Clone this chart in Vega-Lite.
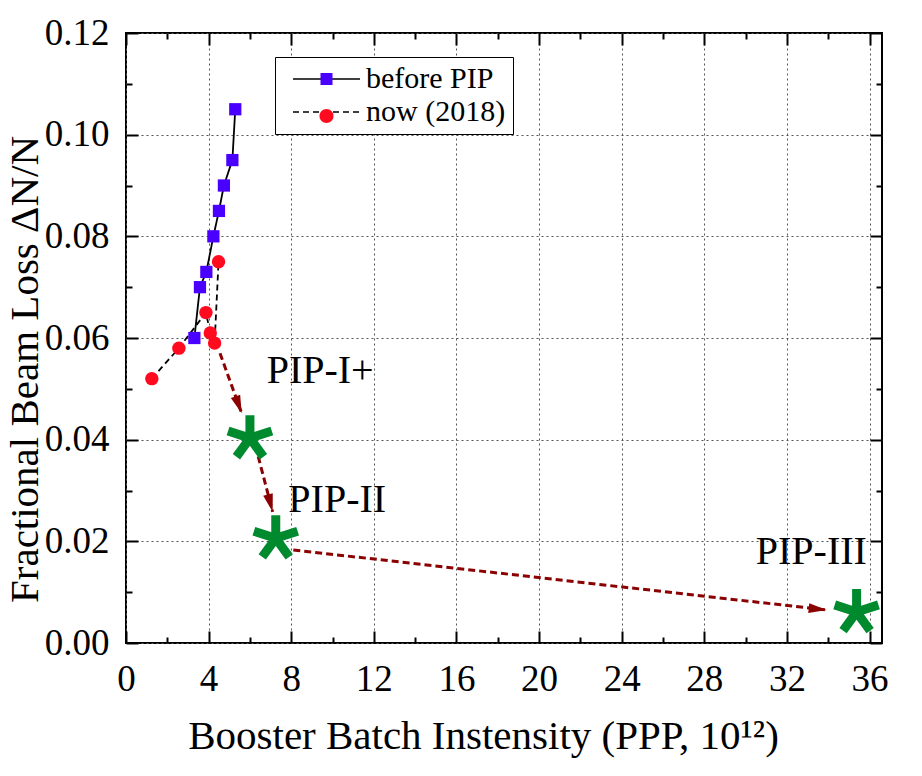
{
  "$schema": "https://vega.github.io/schema/vega-lite/v6.json",
  "width": 756,
  "height": 610,
  "autosize": {"type": "none"},
  "padding": {"left": 126, "top": 33, "right": 40, "bottom": 133},
  "background": "white",
  "config": {
    "font": "Liberation Serif",
    "view": {"stroke": "black", "strokeWidth": 2},
    "axis": {
      "domain": false,
      "grid": false,
      "labelFlush": false,
      "labelOverlap": false,
      "tickColor": "black",
      "tickWidth": 2,
      "labelColor": "black",
      "titleColor": "black",
      "labelFont": "Liberation Serif",
      "titleFont": "Liberation Serif",
      "titleFontWeight": "normal"
    }
  },
  "datasets": {
    "measured": [
      {"series": "before PIP", "ppp": 3.31, "loss": 0.060},
      {"series": "before PIP", "ppp": 3.58, "loss": 0.070},
      {"series": "before PIP", "ppp": 3.89, "loss": 0.073},
      {"series": "before PIP", "ppp": 4.23, "loss": 0.080},
      {"series": "before PIP", "ppp": 4.50, "loss": 0.085},
      {"series": "before PIP", "ppp": 4.74, "loss": 0.090},
      {"series": "before PIP", "ppp": 5.15, "loss": 0.095},
      {"series": "before PIP", "ppp": 5.29, "loss": 0.105},
      {"series": "now (2018)", "ppp": 1.25, "loss": 0.052},
      {"series": "now (2018)", "ppp": 2.56, "loss": 0.058},
      {"series": "now (2018)", "ppp": 3.87, "loss": 0.065},
      {"series": "now (2018)", "ppp": 4.08, "loss": 0.061},
      {"series": "now (2018)", "ppp": 4.29, "loss": 0.059},
      {"series": "now (2018)", "ppp": 4.48, "loss": 0.075}
    ],
    "targets": [
      {"stage": "PIP-I+", "ppp": 6.0, "loss": 0.0403},
      {"stage": "PIP-II", "ppp": 7.25, "loss": 0.0206},
      {"stage": "PIP-III", "ppp": 35.37, "loss": 0.0061}
    ],
    "arrows": [
      {"stage": "PIP-I+", "ppp": 4.55, "loss": 0.0570, "ppp_end": 5.60, "loss_end": 0.0452},
      {"stage": "PIP-II", "ppp": 6.40, "loss": 0.0367, "ppp_end": 7.10, "loss_end": 0.0258},
      {"stage": "PIP-III", "ppp": 8.10, "loss": 0.0183, "ppp_end": 33.92, "loss_end": 0.0065}
    ],
    "labels": [
      {"stage": "PIP-I+", "ppp": 6.81, "loss": 0.0512},
      {"stage": "PIP-II", "ppp": 7.86, "loss": 0.0258},
      {"stage": "PIP-III", "ppp": 30.49, "loss": 0.0155}
    ]
  },
  "resolve": {
    "axis": {"x": "independent", "y": "independent"},
    "scale": {"color": "independent"}
  },
  "layer": [
    {
      "data": {"name": "measured"},
      "mark": {"type": "line", "color": "black", "strokeWidth": 1.8},
      "encoding": {
        "x": {
          "field": "ppp", "type": "quantitative",
          "scale": {"domain": [0, 36.6], "nice": false, "zero": false},
          "axis": {
            "orient": "bottom",
            "values": [0, 4, 8, 12, 16, 20, 24, 28, 32, 36],
            "format": "d",
            "tickSize": -12,
            "labelPadding": 30,
            "labelFontSize": 37,
            "grid": true,
            "gridDash": [2, 3],
            "gridColor": "#555555",
            "gridWidth": 1,
            "title": "Booster Batch Instensity (PPP, 10¹²)",
            "titleFontSize": 41,
            "titleX": 357,
            "titleY": 105,
            "titleAlign": "center",
            "titleBaseline": "alphabetic"
          }
        },
        "y": {
          "field": "loss", "type": "quantitative",
          "scale": {"domain": [0, 0.12], "nice": false},
          "axis": {
            "orient": "left",
            "values": [0, 0.02, 0.04, 0.06, 0.08, 0.1, 0.12],
            "format": ".2f",
            "tickSize": -12,
            "labelPadding": 29,
            "labelFontSize": 37,
            "grid": true,
            "gridDash": [2, 3],
            "gridColor": "#555555",
            "gridWidth": 1,
            "title": "Fractional Beam Loss ΔN/N",
            "titleFontSize": 41,
            "titleAngle": 270,
            "titleX": -89,
            "titleY": 336,
            "titleAlign": "center",
            "titleBaseline": "alphabetic"
          }
        },
        "strokeDash": {
          "field": "series", "type": "nominal",
          "scale": {"domain": ["before PIP", "now (2018)"], "range": [[1, 0], [6, 4]]},
          "legend": {
            "title": null,
            "orient": "none",
            "legendX": 149,
            "legendY": 24,
            "padding": 7,
            "rowPadding": 3,
            "strokeColor": "black",
            "fillColor": "white",
            "labelFont": "Liberation Serif",
            "labelFontSize": 30,
            "labelColor": "black",
            "labelOffset": 54,
            "labelLimit": 0,
            "symbolType": "M-0.286,0H4.5",
            "symbolSize": 784,
            "symbolStrokeColor": "black",
            "symbolStrokeWidth": 1.6,
            "symbolFillColor": "transparent",
            "zindex": 1
          }
        }
      }
    },
    {
      "data": {"name": "measured"},
      "transform": [{"filter": "datum.series === 'before PIP'"}],
      "mark": {"type": "point", "shape": "square", "filled": true, "opacity": 1, "size": 150},
      "encoding": {
        "x": {
          "field": "ppp", "type": "quantitative",
          "axis": {"orient": "bottom", "values": [2, 6, 10, 14, 18, 22, 26, 30, 34], "tickSize": -6, "labels": false, "title": null, "grid": false}
        },
        "y": {
          "field": "loss", "type": "quantitative",
          "axis": {"orient": "left", "values": [0.01, 0.03, 0.05, 0.07, 0.09, 0.11], "tickSize": -6, "labels": false, "title": null, "grid": false}
        },
        "color": {
          "field": "series", "type": "nominal",
          "scale": {"range": ["#4a00ff"]},
          "legend": {
            "title": null,
            "orient": "none",
            "legendX": 149,
            "legendY": 24,
            "padding": 7,
            "labelFont": "Liberation Serif",
            "labelFontSize": 30,
            "labelExpr": "''",
            "labelOffset": 54,
            "labelLimit": 0,
            "symbolType": "M1.679,-0.429H2.536V0.429H1.679Z",
            "symbolSize": 784,
            "symbolStrokeWidth": 0,
            "zindex": 2
          }
        }
      }
    },
    {
      "data": {"name": "measured"},
      "transform": [{"filter": "datum.series === 'now (2018)'"}],
      "mark": {"type": "point", "shape": "circle", "filled": true, "opacity": 1, "size": 180},
      "encoding": {
        "x": {"field": "ppp", "type": "quantitative", "axis": null},
        "y": {"field": "loss", "type": "quantitative", "axis": null},
        "color": {
          "field": "series", "type": "nominal",
          "scale": {"range": ["#ff0a1e"]},
          "legend": {
            "title": null,
            "orient": "none",
            "legendX": 149,
            "legendY": 61,
            "padding": 7,
            "labelFont": "Liberation Serif",
            "labelFontSize": 30,
            "labelExpr": "''",
            "labelOffset": 54,
            "labelLimit": 0,
            "symbolType": "M1.607,0A0.5,0.5 0 1,1 2.607,0A0.5,0.5 0 1,1 1.607,0Z",
            "symbolSize": 784,
            "symbolStrokeWidth": 0,
            "zindex": 2
          }
        }
      }
    },
    {
      "data": {"name": "arrows"},
      "mark": {"type": "rule", "color": "#8b0000", "strokeWidth": 3, "strokeDash": [7, 4]},
      "encoding": {
        "x": {
          "field": "ppp", "type": "quantitative",
          "axis": {"orient": "top", "values": [0, 4, 8, 12, 16, 20, 24, 28, 32, 36], "tickSize": -12, "labels": false, "title": null, "grid": false}
        },
        "y": {
          "field": "loss", "type": "quantitative",
          "axis": {"orient": "right", "values": [0, 0.02, 0.04, 0.06, 0.08, 0.1, 0.12], "tickSize": -12, "labels": false, "title": null, "grid": false}
        },
        "x2": {"field": "ppp_end"},
        "y2": {"field": "loss_end"}
      }
    },
    {
      "data": {"name": "arrows"},
      "transform": [{"filter": "datum.stage === 'PIP-I+'"}],
      "mark": {"type": "point", "shape": "M0,0L0.55,2L-0.55,2Z", "filled": true, "color": "#8b0000", "opacity": 1, "size": 324, "angle": 160},
      "encoding": {
        "x": {"field": "ppp_end", "type": "quantitative", "axis": null},
        "y": {"field": "loss_end", "type": "quantitative", "axis": null}
      }
    },
    {
      "data": {"name": "arrows"},
      "transform": [{"filter": "datum.stage === 'PIP-II'"}],
      "mark": {"type": "point", "shape": "M0,0L0.55,2L-0.55,2Z", "filled": true, "color": "#8b0000", "opacity": 1, "size": 324, "angle": 165},
      "encoding": {
        "x": {"field": "ppp_end", "type": "quantitative", "axis": null},
        "y": {"field": "loss_end", "type": "quantitative", "axis": null}
      }
    },
    {
      "data": {"name": "arrows"},
      "transform": [{"filter": "datum.stage === 'PIP-III'"}],
      "mark": {"type": "point", "shape": "M0,0L0.55,2L-0.55,2Z", "filled": true, "color": "#8b0000", "opacity": 1, "size": 324, "angle": 96},
      "encoding": {
        "x": {"field": "ppp_end", "type": "quantitative", "axis": null},
        "y": {"field": "loss_end", "type": "quantitative", "axis": null}
      }
    },
    {
      "data": {"name": "targets"},
      "mark": {
        "type": "point",
        "shape": "M0,-1L0,0M0.951,-0.309L0,0M0.588,0.809L0,0M-0.588,0.809L0,0M-0.951,-0.309L0,0",
        "filled": false,
        "color": "#008a2e",
        "strokeWidth": 9,
        "strokeCap": "butt",
        "opacity": 1,
        "size": 2116
      },
      "encoding": {
        "x": {
          "field": "ppp", "type": "quantitative",
          "axis": {"orient": "top", "values": [2, 6, 10, 14, 18, 22, 26, 30, 34], "tickSize": -6, "labels": false, "title": null, "grid": false}
        },
        "y": {
          "field": "loss", "type": "quantitative",
          "axis": {"orient": "right", "values": [0.01, 0.03, 0.05, 0.07, 0.09, 0.11], "tickSize": -6, "labels": false, "title": null, "grid": false}
        }
      }
    },
    {
      "data": {"name": "labels"},
      "mark": {"type": "text", "font": "Liberation Serif", "fontSize": 40, "align": "left", "baseline": "alphabetic", "color": "black"},
      "encoding": {
        "x": {"field": "ppp", "type": "quantitative", "axis": null},
        "y": {"field": "loss", "type": "quantitative", "axis": null},
        "text": {"field": "stage"}
      }
    }
  ]
}
